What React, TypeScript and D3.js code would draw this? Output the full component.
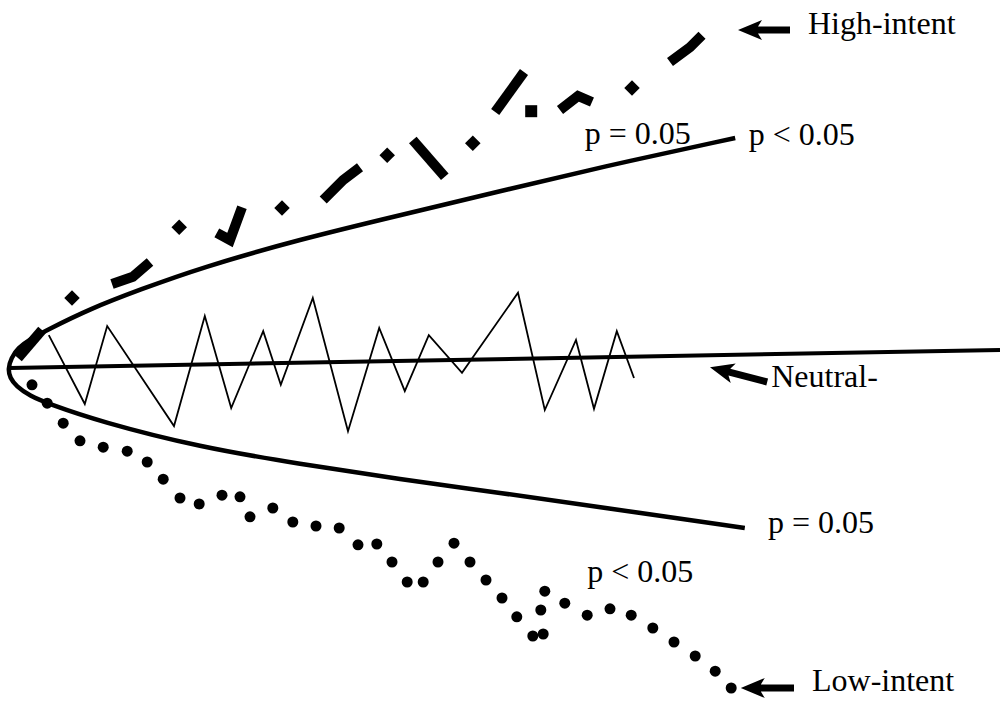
import React from "react";
import * as d3 from "d3";

// chart units: time step (x) and evidence (y)
const upperBound: [number, number][] = [
  [0, -0.1], [0.4, 1.25], [1.25, 2.5], [2.75, 3.6], [4.9, 4.75], [10.25, 7.4],
  [16.5, 9.8], [24, 12.5], [36.5, 16.1], [49, 19.1], [61.5, 22.1], [74, 25.1], [90.9, 28.75],
];
const lowerBound: [number, number][] = [
  [0, -0.1], [0.25, -1.25], [1, -2.25], [2.75, -3.5], [4.9, -4.4], [11.5, -6.7],
  [24, -9.9], [36.5, -12], [49, -13.9], [61.5, -15.6], [74, -17.4], [92.1, -20],
];
const neutralAxis: [number, number][] = [[0.25, 0], [124, 2.25]];

const neutralWalk: [number, number][] = [
  [5.1, 4.1], [9.6, -4.5], [12.4, 5.25], [20.75, -7.25], [24.6, 6.5], [27.9, -5],
  [31.9, 4.6], [34.1, -2.1], [38.1, 8.75], [42.5, -7.9], [46.4, 5], [49.6, -2.9],
  [52.6, 4.1], [56.75, -0.6], [63.75, 9.4], [67.1, -5.25], [71, 3.5], [73.25, -5.1],
  [76.1, 4.6], [78.25, -1.25],
];

// high-intent walk: thick dash pieces, diamonds and one square
const highDashes: [number, number][][] = [
  [[1.25, 1.25], [4.25, 4.75]],
  [[13, 10.5], [15.6, 11.4], [17.75, 13.25]],
  [[26.1, 16.9], [27.75, 16], [29.25, 20.1]],
  [[39.4, 21], [41.9, 23.5], [44, 25.1]],
  [[50.6, 28.5], [54.6, 23.9]],
  [[60.9, 32], [64.5, 37]],
  [[69, 32.25], [71.25, 34], [73, 33.25]],
  [[82.75, 38.25], [85.25, 40.1], [86.75, 41.6]],
];
const highDiamonds: [number, number][] = [
  [8, 8.75], [21.4, 17.6], [34.25, 20], [47.4, 26.6], [58.1, 28.1], [78, 35],
];
const highSquares: [number, number][] = [[65.4, 32.1]];

const lowDots: [number, number][] = [
  [3, -2.1], [4.9, -4.4], [6.9, -6.9], [9, -9.1], [11.9, -9.9], [14.9, -10.4],
  [17.4, -11.75], [19.4, -13.9], [21.5, -16.25], [23.9, -17], [26.75, -15.9], [29, -16.1],
  [30.25, -18.6], [33.1, -17.5], [35.6, -19.25], [38.5, -19.75], [41.4, -20], [43.75, -22.1],
  [46.1, -22], [48, -24.25], [49.9, -26.75], [51.9, -26.75], [53.75, -24.25], [55.75, -21.9],
  [57.75, -24.25], [59.75, -26.5], [61.75, -28.75], [63.6, -31.1], [65.6, -33.5], [66.9, -33.25],
  [66.6, -30.25], [67.1, -27.9], [69.6, -29.4], [72.4, -30.9], [75.25, -30.1], [77.9, -30.9],
  [80.6, -32.5], [83.25, -34.25], [85.9, -36], [88.4, -37.9], [90.4, -40],
];

const labels: { text: string; at: [number, number] }[] = [
  { text: "High-intent", at: [100, 41.75] },
  { text: "p = 0.05", at: [72.1, 28] },
  { text: "p < 0.05", at: [92.6, 27.9] },
  { text: "Neutral-", at: [95.4, -2.4] },
  { text: "p = 0.05", at: [95, -20.6] },
  { text: "p < 0.05", at: [72.4, -26.75] },
  { text: "Low-intent", at: [100.5, -40.4] },
];
// [tail, tip]
const arrows: [[number, number], [number, number]][] = [
  [[97.75, 42.25], [91.25, 42.25]],
  [[94.9, -1.75], [87.75, 0.1]],
  [[98.25, -40], [91.6, -40]],
];

const W = 1001;
const H = 704;

const Arrow = ({ from, to }: { from: number[]; to: number[] }) => {
  const dx = to[0] - from[0];
  const dy = to[1] - from[1];
  const len = Math.hypot(dx, dy);
  const ang = (Math.atan2(dy, dx) * 180) / Math.PI;
  const hl = 20, hw = 10, sw = 3.5;
  const d = `M${len},0 L${len - hl - 4},${-hw} L${len - hl},${-sw} L0,${-sw} L0,${sw} L${len - hl},${sw} L${len - hl - 4},${hw} Z`;
  return <path d={d} transform={`translate(${from[0]},${from[1]}) rotate(${ang})`} fill="#000" />;
};

export default function App() {
  const x = d3.scaleLinear().domain([0, 124]).range([8, 1000]);
  const y = d3.scaleLinear().domain([-40, 40]).range([688, 48]);
  const px = (p: [number, number]) => [x(p[0]), y(p[1])];

  const smooth = d3
    .line<[number, number]>()
    .x((d) => x(d[0]))
    .y((d) => y(d[1]))
    .curve(d3.curveBasis);
  const straight = d3
    .line<[number, number]>()
    .x((d) => x(d[0]))
    .y((d) => y(d[1]));

  const boundary = [...upperBound.slice().reverse(), ...lowerBound.slice(1)];

  return (
    <svg
      width={W}
      height={H}
      style={{ position: "absolute", left: 0, top: 0, background: "#fff" }}
      fontFamily="'Liberation Serif', 'Times New Roman', serif"
    >
      <rect width={W} height={H} fill="#fff" />
      <path d={smooth(boundary) || ""} fill="none" stroke="#000" strokeWidth={4.5} />
      <path d={straight(neutralAxis) || ""} fill="none" stroke="#000" strokeWidth={4} />
      <path d={straight(neutralWalk) || ""} fill="none" stroke="#000" strokeWidth={1.8} strokeLinejoin="miter" />

      {highDashes.map((seg, i) => (
        <path key={i} d={straight(seg) || ""} fill="none" stroke="#000" strokeWidth={10} strokeLinejoin="miter" />
      ))}
      {highDiamonds.map((p, i) => {
        const [cx, cy] = px(p);
        return <rect key={i} x={cx - 5.5} y={cy - 5.5} width={11} height={11} transform={`rotate(45,${cx},${cy})`} fill="#000" />;
      })}
      {highSquares.map((p, i) => {
        const [cx, cy] = px(p);
        return <rect key={i} x={cx - 6} y={cy - 6} width={12} height={12} fill="#000" />;
      })}

      {lowDots.map((p, i) => {
        const [cx, cy] = px(p);
        return <circle key={i} cx={cx} cy={cy} r={5.5} fill="#000" />;
      })}

      {arrows.map((a, i) => (
        <Arrow key={i} from={px(a[0])} to={px(a[1])} />
      ))}
      {labels.map((l, i) => {
        const [lx, ly] = px(l.at);
        return (
          <text key={i} x={lx} y={ly} fontSize={32} fill="#000">
            {l.text}
          </text>
        );
      })}
    </svg>
  );
}
